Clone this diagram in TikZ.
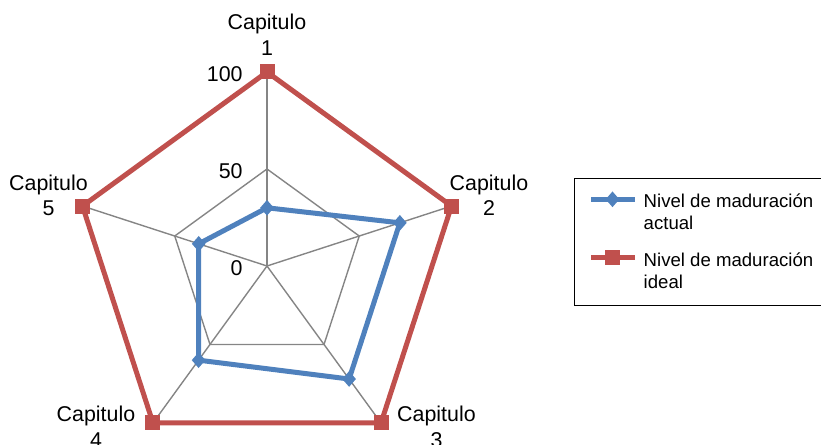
\documentclass[tikz,border=0pt]{standalone}
\usepackage{fontspec}
\setmainfont{Liberation Sans}
\usetikzlibrary{shapes.geometric}
\definecolor{actualblue}{HTML}{4F81BD}
\definecolor{idealred}{HTML}{C0504D}
\begin{document}
\begin{tikzpicture}[x=0.5pt,y=0.5pt]

\tikzset{
  web/.style={draw=black!48, line width=0.7pt},
  ideal/.style={draw=idealred, line width=2.5pt, line join=round},
  actual/.style={draw=actualblue, line width=2.5pt, line join=round},
  sqmark/.style={fill=idealred, minimum size=7.5pt, inner sep=0},
  diamark/.style={diamond, fill=actualblue, minimum width=7pt, minimum height=8pt, inner sep=0},
  chap/.style={font=\fontsize{10.7}{12.65}\selectfont, align=center, anchor=north, inner sep=0},
  axisnum/.style={font=\fontsize{10.7}{12.65}\selectfont, anchor=base east, inner sep=0},
  legtxt/.style={font=\fontsize{9.3}{11.15}\selectfont, align=left, anchor=north west, inner sep=0},
}

\useasboundingbox (0,0) rectangle (821,445);

\coordinate (c) at (267,179);

% axes, ring at 50
\foreach \a [count=\i] in {90,18,-54,-126,-198} {
  \coordinate (v\i) at ([shift={(\a:194)}]c);
  \coordinate (h\i) at ([shift={(\a:97)}]c);
  \draw[web] (c) -- (v\i);
}
\draw[web] (h1) -- (h2) -- (h3) -- (h4) -- (h5) -- cycle;

% actual values
\foreach \a/\r [count=\i] in {90/30,18/72,-54/72,-126/60,-198/37} {
  \coordinate (b\i) at ([shift={(\a:1.94*\r)}]c);
}

\draw[ideal] (v1) -- (v2) -- (v3) -- (v4) -- (v5) -- cycle;
\draw[actual] (b1) -- (b2) -- (b3) -- (b4) -- (b5) -- cycle;

\foreach \i in {1,...,5} {
  \node[sqmark] (s\i) at (v\i) {};
  \node[diamark] (d\i) at (b\i) {};
}

% scale
\node[axisnum] (n100) at (243,363) {100};
\node[axisnum] (n50) at (243,266) {50};
\node[axisnum] (n0) at (243,169) {0};

% chapter labels
\node[chap] (c1) at (267,431) {Capitulo\\1};
\node[chap] (c2) at (489,270.5) {Capitulo\\2};
\node[chap] (c3) at (436.5,39) {Capitulo\\3};
\node[chap] (c4) at (96,39) {Capitulo\\4};
\node[chap] (c5) at (48.5,270.5) {Capitulo\\5};

% legend
\draw[line width=0.5pt] (574.7,139.5) rectangle (830,266);
\coordinate (la) at (591,245.7);
\coordinate (lb) at (635,245.7);
\draw[actual] (la) -- (lb);
\node[diamark] (ld) at (612.5,245.7) {};
\node[legtxt] (lt1) at (643.3,252) {Nivel de maduración\\actual};
\coordinate (lc) at (591,187.3);
\coordinate (le) at (635,187.3);
\draw[ideal] (lc) -- (le);
\node[sqmark] (ls) at (612.5,187.3) {};
\node[legtxt] (lt2) at (643.3,193) {Nivel de maduración\\ideal};

\end{tikzpicture}
\end{document}
